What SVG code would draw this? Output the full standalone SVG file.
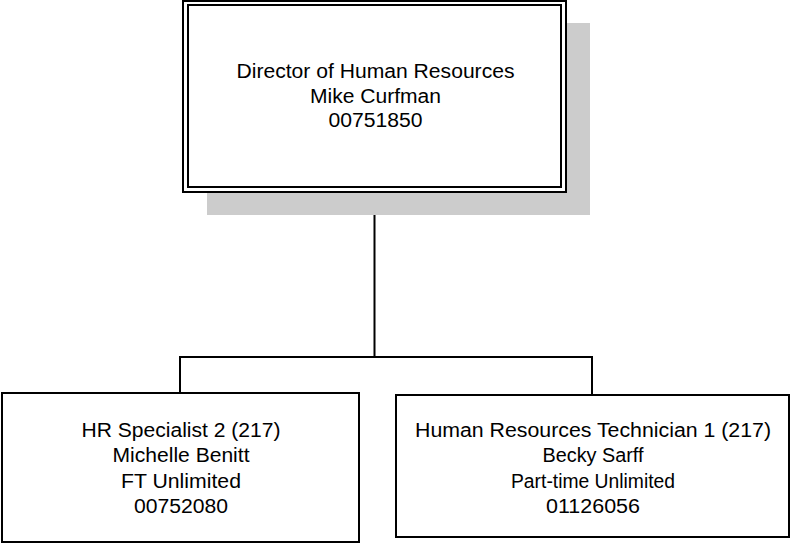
<svg xmlns="http://www.w3.org/2000/svg" width="791" height="543" viewBox="0 0 791 543">
<style>
.box{fill:#fff;stroke:#000;stroke-width:2}
.line{fill:none;stroke:#000;stroke-width:2}
text{font-family:"Liberation Sans",Arial,sans-serif;font-size:20px;fill:#000;text-anchor:middle}
</style>
<rect width="791" height="543" fill="#fff"/>
<g id="connectors">
<path class="line" d="M374.5 192 V357 M180 357 H592 M180 356 V393 M592 356 V395"/>
</g>
<g id="director">
<rect x="207" y="23" width="383" height="192" fill="#cccccc"/>
<rect class="box" x="183" y="1" width="383" height="191"/>
<rect class="box" x="188" y="5" width="373" height="182"/>
<text x="375.5" y="78" textLength="278" lengthAdjust="spacingAndGlyphs">Director of Human Resources</text>
<text x="375.5" y="102.5" textLength="131" lengthAdjust="spacingAndGlyphs">Mike Curfman</text>
<text x="375.5" y="127" textLength="94" lengthAdjust="spacingAndGlyphs">00751850</text>
</g>
<g id="hr-specialist">
<rect class="box" x="2" y="393" width="357" height="149"/>
<text x="181" y="437" textLength="199" lengthAdjust="spacingAndGlyphs">HR Specialist 2 (217)</text>
<text x="181" y="462" textLength="137" lengthAdjust="spacingAndGlyphs">Michelle Benitt</text>
<text x="181" y="487.5" textLength="120" lengthAdjust="spacingAndGlyphs">FT Unlimited</text>
<text x="181" y="512.5" textLength="94" lengthAdjust="spacingAndGlyphs">00752080</text>
</g>
<g id="hr-technician">
<rect class="box" x="396" y="395" width="393" height="142"/>
<text x="593" y="437" textLength="356" lengthAdjust="spacingAndGlyphs">Human Resources Technician 1 (217)</text>
<text x="593" y="462" textLength="101" lengthAdjust="spacingAndGlyphs">Becky Sarff</text>
<text x="593" y="487.5" textLength="164" lengthAdjust="spacingAndGlyphs">Part-time Unlimited</text>
<text x="593" y="512.5" textLength="94" lengthAdjust="spacingAndGlyphs">01126056</text>
</g>
</svg>
